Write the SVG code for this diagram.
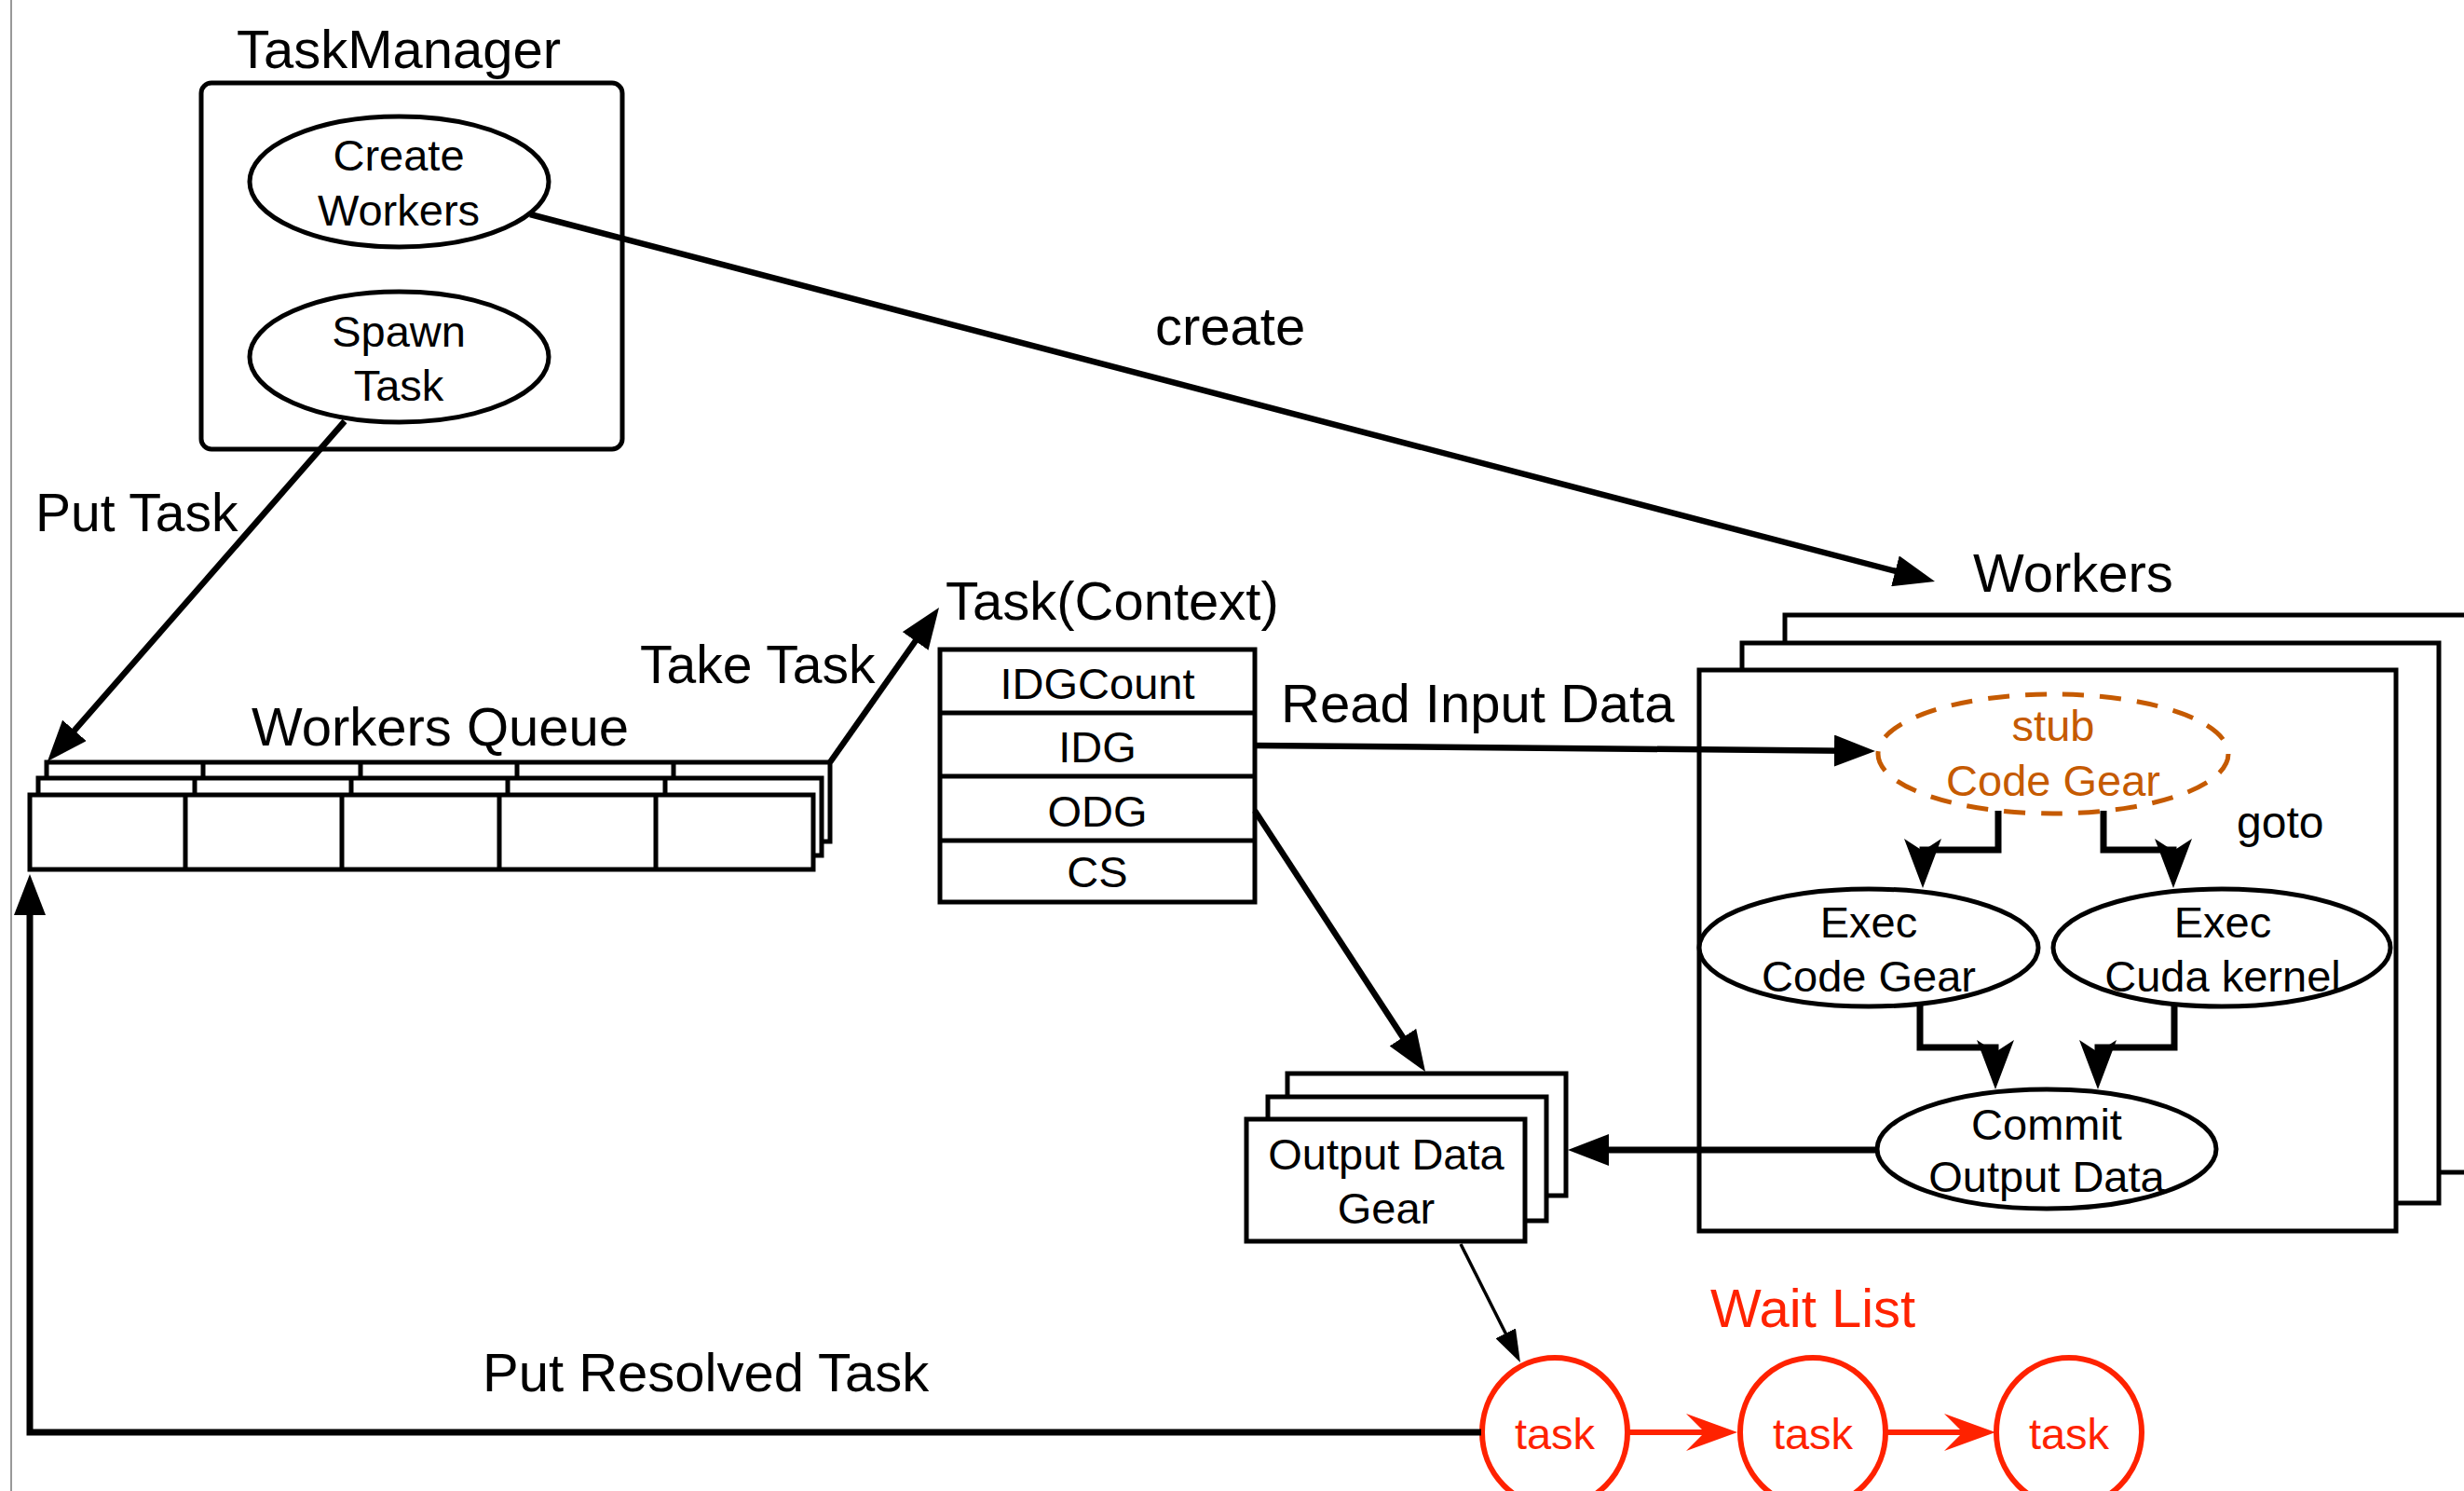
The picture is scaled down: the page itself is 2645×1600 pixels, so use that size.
<svg xmlns="http://www.w3.org/2000/svg" width="2645" height="1600" viewBox="0 0 2645 1600">
<style>
  text { font-family: "Liberation Sans", Arial, Helvetica, sans-serif; fill: #000; }
  .lbl { font-size: 58px; }
  .nt { font-size: 47px; text-anchor: middle; }
  .box { fill: #fff; stroke: #000; stroke-width: 5; }
  .ell { fill: #fff; stroke: #000; stroke-width: 5; }
  .con { fill: none; stroke: #000; stroke-width: 6.5; }
  .ortho { fill: none; stroke: #000; stroke-width: 7; stroke-linejoin: miter; }
  .thin { fill: none; stroke: #000; stroke-width: 3.5; }
  .red { fill: none; stroke: #FF2200; stroke-width: 6; }
  .redtxt { fill: #FF2200; }
  .orange { fill: #C55A00; }
</style>
<defs>
  <marker id="arrow" markerUnits="userSpaceOnUse" viewBox="-14 -17 44 34" markerWidth="44" markerHeight="34" refX="0" refY="0" orient="auto">
    <path d="M30,0 L-14,-17 L-14,17 Z" fill="#000"/>
  </marker>
  <marker id="arrowThin" markerUnits="userSpaceOnUse" viewBox="-10 -12 35 24" markerWidth="35" markerHeight="24" refX="0" refY="0" orient="auto">
    <path d="M25,0 L-10,-12 L-10,12 Z" fill="#000"/>
  </marker>
  <marker id="stealth" markerUnits="userSpaceOnUse" viewBox="-14 -21 55 42" markerWidth="55" markerHeight="42" refX="0" refY="0" orient="auto">
    <path d="M40,0 L-13,-20 L0,0 L-13,20 Z" fill="#000"/>
  </marker>
  <marker id="stealthRed" markerUnits="userSpaceOnUse" viewBox="-21 -21 57 42" markerWidth="57" markerHeight="42" refX="0" refY="0" orient="auto">
    <path d="M35,0 L-20,-20 L0,0 L-20,20 Z" fill="#FF2200"/>
  </marker>
</defs>

<rect x="0" y="0" width="2645" height="1600" fill="#fff"/>
<line x1="12" y1="0" x2="12" y2="1600" stroke="#999" stroke-width="2"/>

<!-- TaskManager -->
<g id="taskmanager">
  <text class="lbl" x="428" y="73" text-anchor="middle">TaskManager</text>
  <rect class="box" x="216" y="89" width="452" height="393" rx="11"/>
</g>
<g id="create-workers">
  <ellipse class="ell" cx="428.5" cy="195" rx="160.5" ry="70"/>
  <text class="nt" x="428" y="183">Create</text>
  <text class="nt" x="428" y="242">Workers</text>
</g>
<g id="spawn-task">
  <ellipse class="ell" cx="428.5" cy="383" rx="160.5" ry="70"/>
  <text class="nt" x="428" y="372">Spawn</text>
  <text class="nt" x="428" y="430">Task</text>
</g>

<!-- Workers Queue -->
<g id="workers-queue">
  <text class="lbl" x="270" y="800">Workers Queue</text>
  <rect class="box" x="50" y="818" width="841" height="85"/>
  <path class="box" d="M218,818V903M387,818V903M555,818V903M723,818V903"/>
  <rect class="box" x="41" y="835" width="841" height="83"/>
  <path class="box" d="M209,835V918M377,835V918M545,835V918M714,835V918"/>
  <rect class="box" x="32" y="853" width="841" height="80"/>
  <path class="box" d="M199,853V933M367,853V933M536,853V933M704,853V933"/>
</g>

<!-- Task(Context) -->
<g id="task-context">
  <text class="lbl" x="1015" y="665">Task(Context)</text>
  <rect class="box" x="1009" y="697" width="338" height="271"/>
  <path class="box" d="M1009,765H1347M1009,833H1347M1009,902H1347"/>
  <text class="nt" x="1178" y="750">IDGCount</text>
  <text class="nt" x="1178" y="818">IDG</text>
  <text class="nt" x="1178" y="887">ODG</text>
  <text class="nt" x="1178" y="952">CS</text>
</g>

<!-- Workers -->
<g id="workers">
  <text class="lbl" x="2118" y="635">Workers</text>
  <rect class="box" x="1916" y="660" width="800" height="598"/>
  <rect class="box" x="1870" y="690" width="748" height="601"/>
  <rect class="box" x="1824" y="719" width="748" height="602"/>
</g>
<g id="stub-code-gear">
  <ellipse cx="2204" cy="809" rx="188" ry="64" fill="#fff" stroke="#C55A00" stroke-width="5" stroke-dasharray="23 17"/>
  <text class="nt orange" x="2204" y="795">stub</text>
  <text class="nt orange" x="2204" y="854">Code Gear</text>
</g>
<g id="exec-code-gear">
  <ellipse class="ell" cx="2006" cy="1017" rx="182" ry="63"/>
  <text class="nt" x="2006" y="1006">Exec</text>
  <text class="nt" x="2006" y="1064">Code Gear</text>
</g>
<g id="exec-cuda-kernel">
  <ellipse class="ell" cx="2385" cy="1017" rx="181" ry="63"/>
  <text class="nt" x="2386" y="1006">Exec</text>
  <text class="nt" x="2386" y="1064">Cuda kernel</text>
</g>
<g id="commit-output-data">
  <ellipse class="ell" cx="2197" cy="1233" rx="182" ry="64"/>
  <text class="nt" x="2197" y="1223">Commit</text>
  <text class="nt" x="2197" y="1279">Output Data</text>
</g>

<!-- Output Data Gear -->
<g id="output-data-gear">
  <rect class="box" x="1382" y="1152" width="299" height="131"/>
  <rect class="box" x="1361" y="1177" width="299" height="133"/>
  <rect class="box" x="1338" y="1201" width="299" height="131"/>
  <text class="nt" x="1488" y="1255">Output Data</text>
  <text class="nt" x="1488" y="1313">Gear</text>
</g>

<!-- Wait list -->
<g id="wait-list">
  <text class="lbl redtxt" x="1836" y="1424">Wait List</text>
</g>
<g id="task1">
  <ellipse class="red" cx="1669" cy="1537" rx="78" ry="80" fill="#fff"/>
  <text class="nt redtxt" x="1669" y="1555">task</text>
</g>
<g id="task2">
  <ellipse class="red" cx="1946" cy="1537" rx="78" ry="80" fill="#fff"/>
  <text class="nt redtxt" x="1946" y="1555">task</text>
</g>
<g id="task3">
  <ellipse class="red" cx="2221" cy="1537" rx="78" ry="80" fill="#fff"/>
  <text class="nt redtxt" x="2221" y="1555">task</text>
</g>

<!-- Connectors -->
<g id="connectors">
  <line class="con" x1="370" y1="452" x2="70.7" y2="794.4" marker-end="url(#arrow)"/>
  <line class="con" x1="569" y1="230" x2="2048" y2="616.4" marker-end="url(#arrow)"/>
  <line class="con" x1="891" y1="818" x2="990.7" y2="676.5" marker-end="url(#arrow)"/>
  <line class="con" x1="1347" y1="800" x2="1983" y2="805.7" marker-end="url(#arrow)"/>
  <line class="con" x1="1347" y1="870" x2="1513.6" y2="1124.9" marker-end="url(#arrow)"/>
  <line class="ortho" x1="2014" y1="1234" x2="1713" y2="1234" marker-end="url(#arrow)"/>
  <line class="thin" x1="1568" y1="1335" x2="1620.7" y2="1439.7" marker-end="url(#arrowThin)"/>
  <path class="ortho" d="M1590,1537 H32 V968" marker-end="url(#arrow)"/>
  <path class="ortho" d="M2145,870 V912 H2064 V913" marker-end="url(#stealth)"/>
  <path class="ortho" d="M2258,870 V912 H2333 V913" marker-end="url(#stealth)"/>
  <path class="ortho" d="M2061,1077 V1124 H2142 V1129" marker-end="url(#stealth)"/>
  <path class="ortho" d="M2334,1077 V1124 H2252 V1129" marker-end="url(#stealth)"/>
  <line class="red" x1="1747" y1="1537" x2="1830" y2="1537" marker-end="url(#stealthRed)"/>
  <line class="red" x1="2024" y1="1537" x2="2107" y2="1537" marker-end="url(#stealthRed)"/>
  <text class="lbl" x="38" y="570" style="font-size:57px">Put Task</text>
  <text class="lbl" x="1240" y="370">create</text>
  <text class="lbl" x="687" y="733" style="font-size:57px">Take Task</text>
  <text class="lbl" x="1375" y="775">Read Input Data</text>
  <text class="lbl" x="2401" y="899" style="font-size:48px">goto</text>
  <text class="lbl" x="518" y="1493">Put Resolved Task</text>
</g>
</svg>
